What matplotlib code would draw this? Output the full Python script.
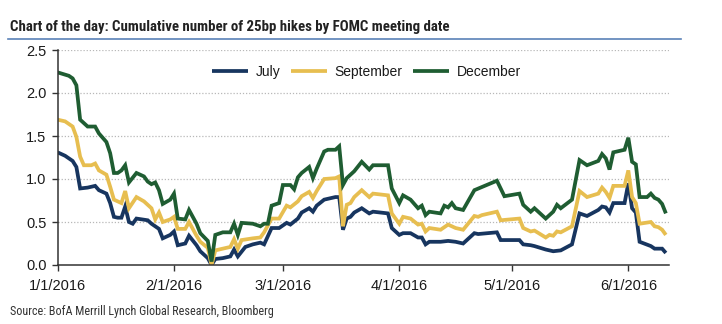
import matplotlib
matplotlib.use("Agg")
import matplotlib.pyplot as plt
from matplotlib import font_manager as fm
import pandas as pd

# ---- data: day offsets from 1 Jan 2016 and cumulative 25bp hikes priced ----
july_day = [0, 2, 4, 5, 6, 8, 10, 11, 13, 14, 15, 16, 17, 18, 19, 20, 21, 24, 25, 27,
            28, 30, 31, 32, 34, 35, 37, 38, 40, 41, 42, 44, 46, 47, 48, 50, 52, 54, 55,
            57, 59, 61, 62, 64, 65, 67, 68, 69, 71, 74, 75, 76, 77, 78, 79, 81, 83, 84,
            88, 89, 91, 92, 94, 96, 97, 98, 99, 102, 104, 106, 108, 111, 112, 117, 118,
            123, 124, 126, 127, 130, 132, 134, 137, 139, 141, 144, 145, 146, 147, 148,
            151, 152, 153, 154, 155, 158, 159, 161, 162]
july = [1.31, 1.27, 1.21, 1.14, 0.89, 0.90, 0.92, 0.87, 0.83, 0.72, 0.56, 0.55, 0.55,
        0.68, 0.50, 0.48, 0.54, 0.52, 0.48, 0.42, 0.31, 0.35, 0.39, 0.23, 0.25, 0.34,
        0.23, 0.16, 0.08, 0.00, 0.07, 0.08, 0.10, 0.18, 0.10, 0.21, 0.24, 0.26, 0.24,
        0.43, 0.43, 0.49, 0.47, 0.54, 0.61, 0.66, 0.62, 0.69, 0.76, 0.79, 0.79, 0.41,
        0.54, 0.56, 0.61, 0.66, 0.60, 0.62, 0.60, 0.43, 0.35, 0.37, 0.37, 0.32, 0.32,
        0.24, 0.27, 0.27, 0.28, 0.27, 0.25, 0.37, 0.36, 0.38, 0.29, 0.29, 0.24, 0.23,
        0.22, 0.18, 0.16, 0.17, 0.24, 0.60, 0.57, 0.64, 0.68, 0.67, 0.61, 0.72, 0.72,
        0.95, 0.66, 0.61, 0.27, 0.22, 0.19, 0.19, 0.14]

sept_day = [0, 2, 4, 5, 6, 7, 9, 10, 11, 13, 14, 15, 16, 17, 18, 19, 21, 23, 24, 25,
            26, 27, 28, 30, 31, 32, 34, 35, 37, 38, 40, 41, 42, 44, 46, 47, 48, 49, 52,
            54, 55, 57, 59, 61, 62, 64, 65, 67, 68, 69, 71, 74, 75, 76, 77, 78, 79, 81,
            83, 84, 88, 89, 91, 92, 94, 96, 97, 98, 99, 102, 103, 104, 106, 108, 111,
            112, 113, 117, 118, 123, 124, 126, 127, 130, 131, 132, 133, 134, 137, 139,
            141, 144, 145, 146, 147, 148, 151, 152, 153, 154, 155, 158, 159, 160, 161,
            162]
sept = [1.69, 1.67, 1.61, 1.49, 1.26, 1.16, 1.16, 1.18, 1.10, 1.05, 0.91, 0.76, 0.74,
        0.72, 0.86, 0.66, 0.79, 0.74, 0.70, 0.66, 0.53, 0.61, 0.50, 0.53, 0.56, 0.42,
        0.42, 0.50, 0.34, 0.27, 0.20, 0.00, 0.17, 0.19, 0.21, 0.30, 0.19, 0.29, 0.31,
        0.32, 0.38, 0.54, 0.54, 0.69, 0.67, 0.74, 0.80, 0.85, 0.78, 0.86, 1.00, 1.01,
        1.03, 0.45, 0.70, 0.72, 0.79, 0.87, 0.79, 0.83, 0.81, 0.60, 0.48, 0.56, 0.54,
        0.47, 0.48, 0.39, 0.43, 0.41, 0.44, 0.47, 0.43, 0.41, 0.57, 0.56, 0.58, 0.62,
        0.52, 0.54, 0.43, 0.39, 0.40, 0.32, 0.35, 0.34, 0.39, 0.38, 0.45, 0.86, 0.79,
        0.83, 0.90, 0.85, 0.78, 0.92, 0.92, 1.10, 0.79, 0.72, 0.48, 0.50, 0.45, 0.44,
        0.41, 0.35]

dec_day = [0, 3, 4, 5, 6, 8, 10, 11, 13, 14, 15, 16, 17, 18, 19, 21, 23, 24, 25, 26,
           27, 28, 30, 31, 32, 34, 35, 37, 38, 40, 41, 42, 44, 46, 47, 48, 49, 52, 54,
           55, 56, 57, 59, 60, 62, 63, 64, 65, 67, 68, 69, 71, 72, 74, 75, 76, 77, 79,
           81, 83, 84, 88, 89, 91, 92, 94, 96, 97, 98, 99, 102, 103, 104, 105, 106, 108,
           111, 117, 119, 123, 124, 126, 127, 130, 132, 133, 134, 137, 139, 141, 144,
           145, 146, 147, 148, 151, 152, 153, 154, 155, 157, 158, 159, 160, 161, 162]
dec = [2.24, 2.20, 2.17, 2.09, 1.69, 1.61, 1.61, 1.53, 1.43, 1.30, 1.07, 1.07, 1.10,
       1.16, 0.96, 1.07, 1.03, 0.97, 0.94, 0.96, 0.87, 0.71, 0.76, 0.83, 0.54, 0.53,
       0.64, 0.48, 0.37, 0.28, 0.04, 0.35, 0.38, 0.38, 0.48, 0.35, 0.49, 0.48, 0.45,
       0.48, 0.48, 0.69, 0.72, 0.93, 0.93, 0.88, 1.02, 1.07, 1.14, 1.01, 1.12, 1.32,
       1.34, 1.34, 1.38, 0.93, 1.01, 1.09, 1.20, 1.11, 1.16, 1.16, 0.89, 0.72, 0.81,
       0.76, 0.66, 0.69, 0.58, 0.62, 0.60, 0.69, 0.67, 0.72, 0.66, 0.64, 0.87, 0.98,
       0.80, 0.83, 0.70, 0.62, 0.66, 0.54, 0.62, 0.70, 0.66, 0.76, 1.22, 1.16, 1.21,
       1.29, 1.24, 1.11, 1.31, 1.34, 1.48, 1.20, 1.17, 0.79, 0.79, 0.83, 0.78, 0.76,
       0.71, 0.60]

series_labels = ["July", "September", "December"]
tick_dates = ["2016-01-01", "2016-02-01", "2016-03-01", "2016-04-01", "2016-05-01", "2016-06-01"]
tick_labels = ["1/1/2016", "2/1/2016", "3/1/2016", "4/1/2016", "5/1/2016", "6/1/2016"]
y_ticks = [0.0, 0.5, 1.0, 1.5, 2.0, 2.5]

title_text = "Chart of the day: Cumulative number of 25bp hikes by FOMC meeting date"
source_text = "Source: BofA Merrill Lynch Global Research, Bloomberg"

# ---- fonts ----
available = {f.name for f in fm.fontManager.ttflist}


def first_font(candidates):
    for name in candidates:
        if name in available:
            return name
    return "DejaVu Sans"


body_font = first_font(["Liberation Sans", "DejaVu Sans"])
narrow_font = first_font(["Liberation Sans Narrow", "Roboto Condensed", "Roboto", body_font])
plt.rcParams["font.family"] = [body_font, "DejaVu Sans"]

base = pd.Timestamp("2016-01-01")


def to_dates(days):
    return base + pd.to_timedelta(days, unit="D")


W, H = 722, 324
fig = plt.figure(figsize=(W / 100, H / 100), dpi=100)
ax = fig.add_axes([57.6 / W, 1 - 265 / H, (668.5 - 57.6) / W, (265 - 50) / H])

colors = ["#17355f", "#e7be50", "#1f5d32"]
for days, vals, lab, col in zip([july_day, sept_day, dec_day], [july, sept, dec],
                                series_labels, colors):
    ax.plot(to_dates(days), vals, color=col, lw=2.7, label=lab,
            solid_joinstyle="miter", solid_capstyle="butt")

ax.set_ylim(0, 2.5)
ax.set_xlim(base, base + pd.Timedelta(days=162.7))
ax.set_yticks(y_ticks)
ax.set_yticklabels([f"{v:.1f}" for v in y_ticks])
ax.set_xticks(pd.to_datetime(tick_dates))
ax.set_xticklabels(tick_labels)

for v in y_ticks[1:]:
    ax.axhline(v, color="#b8b8b8", lw=0.9, ls=(0, (1, 1.5)), zorder=0)

for s in ["top", "right"]:
    ax.spines[s].set_visible(False)
for s in ["left", "bottom"]:
    ax.spines[s].set_color("#333333")
    ax.spines[s].set_linewidth(1.1)

ax.tick_params(axis="both", direction="out", length=4, width=1, color="#333333",
               labelsize=10.5, labelcolor="#1a1a1a")
ax.tick_params(axis="x", pad=6)
ax.tick_params(axis="y", pad=4)

leg = ax.legend(loc="center left", bbox_to_anchor=(205 / W, 1 - 72 / H),
                bbox_transform=fig.transFigure, ncol=3, frameon=False,
                fontsize=10, handlelength=2.6, handletextpad=0.55,
                columnspacing=0.75, borderpad=0)
for t in leg.get_texts():
    t.set_color("#1a1a1a")

fig.text(10 / W, 1 - 27 / H, title_text, fontsize=10.7, fontweight="bold",
         family=narrow_font, color="#222222", va="center", ha="left")
fig.add_artist(plt.Line2D([8 / W, 681 / W], [1 - 39 / H, 1 - 39 / H],
                          transform=fig.transFigure, color="#5a82b8", lw=1.2))
fig.text(10 / W, 1 - 312 / H, source_text, fontsize=8.7, family=narrow_font,
         color="#333333", va="center", ha="left")

fig.savefig("out.png", dpi=100)
